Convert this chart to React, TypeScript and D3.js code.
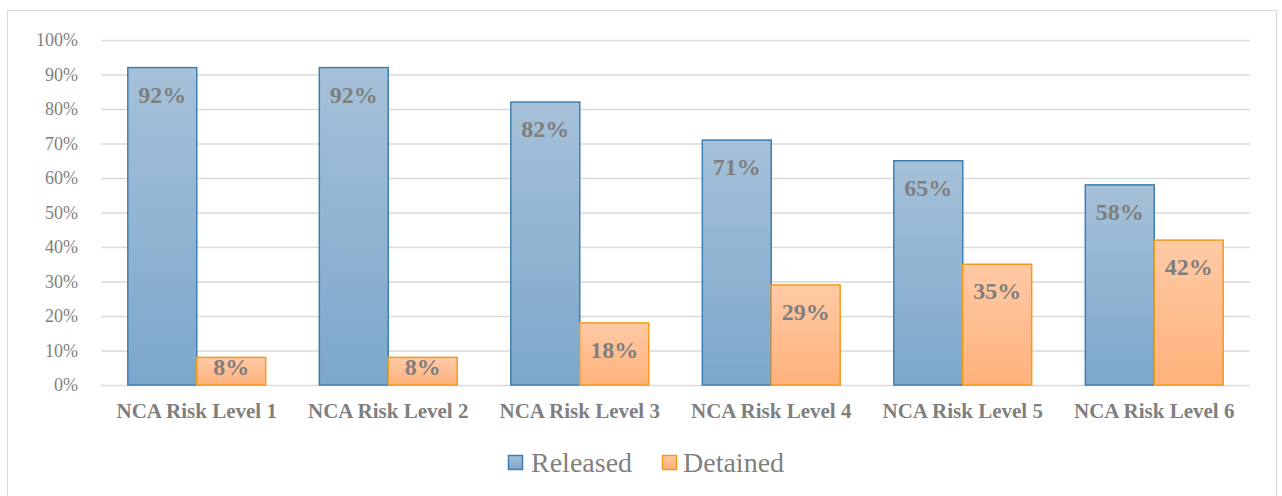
import { useEffect } from 'react'
import * as d3 from 'd3'

const categories = ['NCA Risk Level 1', 'NCA Risk Level 2', 'NCA Risk Level 3', 'NCA Risk Level 4', 'NCA Risk Level 5', 'NCA Risk Level 6']
const released = [92, 92, 82, 71, 65, 58]
const detained = [8, 8, 18, 29, 35, 42]
const yTicks = [0, 10, 20, 30, 40, 50, 60, 70, 80, 90, 100]
const seriesNames = ['Released', 'Detained']

const W = 1282
const H = 496
const serif = '"Liberation Serif", "Times New Roman", serif'

export default function App() {
  useEffect(() => {
    document.body.style.margin = '0'
  }, [])

  const x = d3.scaleBand<string>().domain(categories).range([101, 1250]).paddingInner(0.28).paddingOuter(0.14)
  const inner = d3.scaleBand<string>().domain(seriesNames).range([0, x.bandwidth()])
  const y = d3.scaleLinear().domain([0, 100]).range([385, 40])

  const series = [
    { name: 'Released', values: released, fill: 'url(#gRel)', stroke: '#3f7fb0' },
    { name: 'Detained', values: detained, fill: 'url(#gDet)', stroke: '#f39a1c' },
  ]

  // label sits inside the top of the bar, pushed up when the bar is short
  const labelY = (v: number) => Math.min(y(v) + 35, y(0) - 10)

  return (
    <svg width={W} height={H} style={{ display: 'block' }} fontFamily={serif}>
      <defs>
        <linearGradient id="gRel" x1="0" y1="0" x2="0" y2="1">
          <stop offset="0" stopColor="#a6c1d9" />
          <stop offset="1" stopColor="#7ca7cb" />
        </linearGradient>
        <linearGradient id="gDet" x1="0" y1="0" x2="0" y2="1">
          <stop offset="0" stopColor="#ffcaa6" />
          <stop offset="1" stopColor="#ffb27b" />
        </linearGradient>
      </defs>
      <rect x={7.5} y={10.5} width={1269} height={500} fill="#fff" stroke="#d9d9d9" />
      {yTicks.map(t => (
        <g key={t}>
          <line x1={101} x2={1250} y1={y(t) + 0.5} y2={y(t) + 0.5} stroke="#d9d9d9" strokeWidth={1.5} />
          <text x={78} y={y(t)} dy="0.35em" textAnchor="end" fontSize={18} fill="#7f7f7f">{t}%</text>
        </g>
      ))}
      {series.map(s => (
        <g key={s.name}>
          {s.values.map((v, i) => {
            const bx = (x(categories[i]) ?? 0) + (inner(s.name) ?? 0)
            return (
              <g key={i}>
                <rect x={bx} y={y(v)} width={inner.bandwidth()} height={y(0) - y(v)} fill={s.fill} stroke={s.stroke} strokeWidth={1.5} />
                <text x={bx + inner.bandwidth() / 2} y={labelY(v)} textAnchor="middle" fontSize={24} fontWeight="bold" fill="#7f7f7f">{v}%</text>
              </g>
            )
          })}
        </g>
      ))}
      {categories.map(c => (
        <text key={c} x={(x(c) ?? 0) + x.bandwidth() / 2} y={418} textAnchor="middle" fontSize={21} fontWeight="bold" fill="#7f7f7f">{c}</text>
      ))}
      <g>
        <rect x={508.5} y={455.5} width={14} height={14} fill="url(#gRel)" stroke="#3f7fb0" strokeWidth={1.5} />
        <text x={531} y={472} fontSize={28} fill="#7f7f7f">Released</text>
        <rect x={662.5} y={455.5} width={14} height={14} fill="url(#gDet)" stroke="#f39a1c" strokeWidth={1.5} />
        <text x={683} y={472} fontSize={28} fill="#7f7f7f">Detained</text>
      </g>
    </svg>
  )
}
